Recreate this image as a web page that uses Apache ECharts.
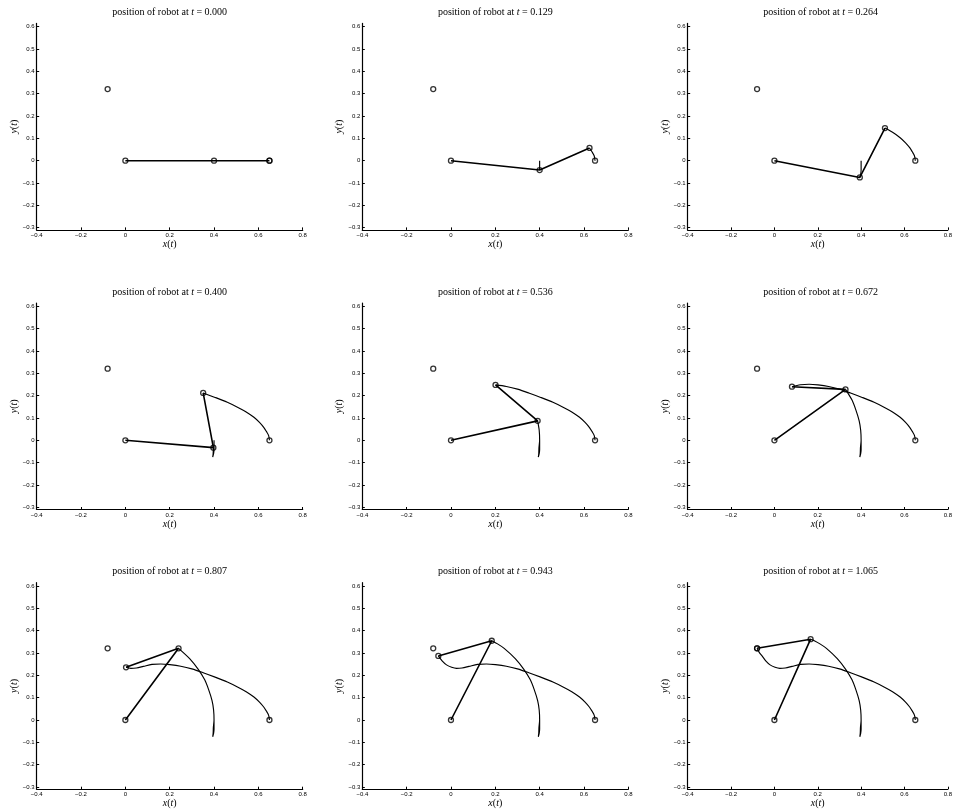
<!DOCTYPE html>
<html><head><meta charset="utf-8">
<script src="https://cdn.jsdelivr.net/npm/echarts@6/dist/echarts.min.js"></script>
<style>html,body{margin:0;padding:0;background:#fff}#c{width:955px;height:810px}</style>
</head><body><div id="c"></div>
<script>
// ---- data ----
const times = [0.000, 0.129, 0.264, 0.400, 0.536, 0.672, 0.807, 0.943, 1.065];
const basePoint = [0, 0];
const targetPoint = [-0.08, 0.321];
const startPoint = [0.65, 0];
// path of the elbow joint (time ordered)
const jointPath = [
  [0.400, 0.000], [0.400, -0.021], [0.400, -0.042], [0.398, -0.060], [0.394, -0.075],
  [0.396, -0.060], [0.397, -0.033], [0.400, 0.000], [0.398, 0.045], [0.391, 0.087],
  [0.376, 0.135], [0.358, 0.180], [0.328, 0.228], [0.290, 0.275], [0.240, 0.321],
  [0.210, 0.341], [0.184, 0.355], [0.175, 0.359], [0.167, 0.362]
];
// path of the end effector (time ordered)
const endPath = [
  [0.650, 0.000], [0.646, 0.022], [0.636, 0.040], [0.625, 0.057], [0.605, 0.080],
  [0.580, 0.103], [0.545, 0.127], [0.510, 0.146], [0.460, 0.170], [0.405, 0.192],
  [0.351, 0.212], [0.300, 0.229], [0.250, 0.241], [0.201, 0.248], [0.160, 0.251],
  [0.120, 0.249], [0.081, 0.240], [0.050, 0.233], [0.025, 0.231], [0.003, 0.236],
  [-0.020, 0.247], [-0.040, 0.265], [-0.057, 0.287], [-0.070, 0.303], [-0.080, 0.321]
];
// index of the snapshot position in each path, per panel
const jointIdx = [0, 2, 4, 6, 9, 12, 14, 16, 18];
const endIdx = [0, 3, 7, 10, 13, 16, 19, 22, 24];
const xTickValues = [-0.4, -0.2, 0, 0.2, 0.4, 0.6, 0.8];
const yTickValues = [-0.3, -0.2, -0.1, 0, 0.1, 0.2, 0.3, 0.4, 0.5, 0.6];
const xRange = [-0.4, 0.8];
const yRange = [-0.31, 0.615];

// ---- layout ----
const colLeft = [36.7, 362.3, 687.7];
const rowTop = [23.4, 303, 582.7];
const plotW = 266, plotH = 206.5;

const serif = 'Liberation Serif';
const sans = 'Liberation Sans';
const fmt = v => String(parseFloat(Number(v).toFixed(2))).replace('-', '\u2212');

const grids = [], xAxes = [], yAxes = [], titles = [], series = [];
for (let k = 0; k < 9; k++) {
  const r = Math.floor(k / 3), c = k % 3;
  grids.push({ left: colLeft[c], top: rowTop[r], width: plotW, height: plotH, containLabel: false });
  titles.push({
    text: 'position of robot at {i|t} = ' + times[k].toFixed(3),
    left: colLeft[c] + plotW / 2, top: rowTop[r] - 16, textAlign: 'center', padding: 0,
    textStyle: { fontFamily: serif, fontSize: 10, fontWeight: 'normal', color: '#000',
      rich: { i: { fontFamily: serif, fontSize: 10, fontStyle: 'italic', color: '#000' } } }
  });
  const axisCommon = {
    type: 'value', gridIndex: k,
    axisLine: { show: true, onZero: false, lineStyle: { color: '#000', width: 1.2 } },
    axisTick: { show: true, inside: true, length: 2.5, lineStyle: { color: '#000', width: 1 } },
    splitLine: { show: false },
    nameLocation: 'middle',
    nameTextStyle: { fontFamily: serif, fontSize: 10, color: '#000',
      rich: { i: { fontFamily: serif, fontSize: 10, fontStyle: 'italic', color: '#000' } } }
  };
  xAxes.push(Object.assign({}, axisCommon, {
    min: xRange[0], max: xRange[1], interval: 0.2,
    axisTick: Object.assign({}, axisCommon.axisTick, { customValues: xTickValues }),
    axisLabel: { customValues: xTickValues, fontFamily: sans, fontSize: 6, color: '#000', margin: 2.5, formatter: fmt },
    name: '{i|x}({i|t})', nameGap: 9
  }));
  yAxes.push(Object.assign({}, axisCommon, {
    min: yRange[0], max: yRange[1], splitNumber: 9,
    axisTick: Object.assign({}, axisCommon.axisTick, { customValues: yTickValues }),
    axisLabel: { customValues: yTickValues, fontFamily: sans, fontSize: 6, color: '#000', margin: 2, formatter: fmt },
    name: '{i|y}({i|t})', nameGap: 16
  }));
  const joint = jointPath[jointIdx[k]], end = endPath[endIdx[k]];
  const lineBase = { type: 'line', xAxisIndex: k, yAxisIndex: k, showSymbol: false, symbol: 'none', silent: true, animation: false };
  series.push(Object.assign({}, lineBase, { data: jointPath.slice(0, jointIdx[k] + 1), smooth: 0.25, lineStyle: { color: '#000', width: 1.15 } }));
  series.push(Object.assign({}, lineBase, { data: endPath.slice(0, endIdx[k] + 1), smooth: 0.3, lineStyle: { color: '#000', width: 1.15 } }));
  series.push(Object.assign({}, lineBase, { data: [basePoint, joint, end], lineStyle: { color: '#000', width: 1.6 } }));
  series.push({
    type: 'scatter', xAxisIndex: k, yAxisIndex: k, silent: true, animation: false,
    symbol: 'circle', symbolSize: 5,
    itemStyle: { color: 'rgba(0,0,0,0)', borderColor: '#000', borderWidth: 1.3 },
    data: [targetPoint, startPoint, basePoint, joint, end]
  });
}

const chart = echarts.init(document.getElementById('c'), null, { renderer: 'canvas' });
chart.setOption({
  backgroundColor: '#fff', animation: false,
  title: titles, grid: grids, xAxis: xAxes, yAxis: yAxes, series: series
});
</script></body></html>
